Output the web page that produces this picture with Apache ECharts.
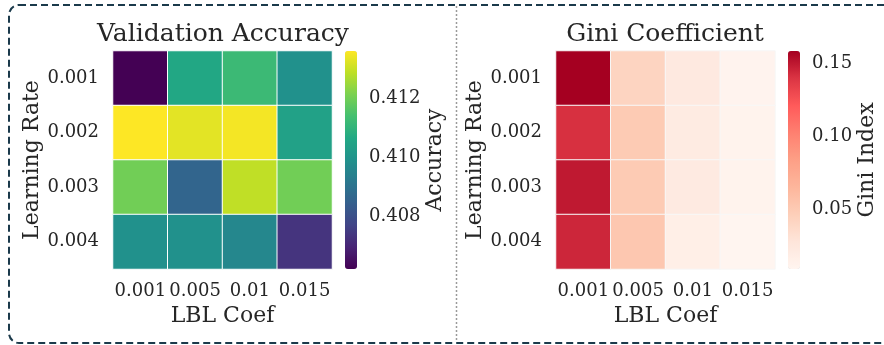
<!DOCTYPE html>
<html>
<head>
<meta charset="utf-8">
<style>
  html, body { margin: 0; padding: 0; background: #ffffff; }
  #chart { width: 884px; height: 345px; }
</style>
<script src="https://cdn.jsdelivr.net/npm/echarts@6/dist/echarts.min.js"></script>
</head>
<body>
<div id="chart"></div>
<script>
// ---- data ----
const lblCoefs = ['0.001', '0.005', '0.01', '0.015'];
const learningRates = ['0.001', '0.002', '0.003', '0.004'];

// rows = learning rate (top to bottom), columns = LBL coef
const accuracyRows = [
  [0.4062, 0.4106, 0.4112, 0.4099],
  [0.4136, 0.4133, 0.4135, 0.4104],
  [0.4120, 0.4086, 0.4129, 0.4120],
  [0.4099, 0.4099, 0.4096, 0.4073]
];
const giniRows = [
  [0.1586, 0.0420, 0.0224, 0.0110],
  [0.1414, 0.0493, 0.0209, 0.0118],
  [0.1496, 0.0493, 0.0216, 0.0112],
  [0.1451, 0.0523, 0.0164, 0.0089]
];

const accuracyTicks = [0.408, 0.410, 0.412];
const giniTicks = [0.05, 0.10, 0.15];

const viridis = ['#440154', '#482475', '#414487', '#355f8d', '#2a788e', '#21918c',
                 '#22a884', '#44bf70', '#7ad151', '#bddf26', '#fde725'];
const redsCustom = ['#fff5f0', '#fee5da', '#fdcfb9', '#fdb69c', '#fd9f86', '#fe8070',
                    '#ff5a5a', '#db3443', '#a50021'];

// ---- build ----
function toCells(rows) {
  const out = [];
  rows.forEach((row, r) => row.forEach((v, c) => out.push([c, r, v])));
  return out;
}
const accFlat = accuracyRows.flat();
const giniFlat = giniRows.flat();
const accMin = Math.min(...accFlat), accMax = Math.max(...accFlat);
const giniMin = Math.min(...giniFlat), giniMax = Math.max(...giniFlat);

const FONT = 'DejaVu Serif';
const TXT = '#262626';

const panels = [
  { left: 113, cbLeft: 345, name: 'Accuracy', nameGap: 66, digits: 3, min: accMin, max: accMax, ticks: accuracyTicks },
  { left: 556, cbLeft: 788, name: 'Gini Index', nameGap: 54, digits: 2, min: giniMin, max: giniMax, ticks: giniTicks }
];
const TOP = 51, W = 219, H = 218, CBW = 12;

const grids = [], xAxes = [], yAxes = [];
panels.forEach((p) => {
  grids.push({ left: p.left, top: TOP, width: W, height: H });
  grids.push({ left: p.cbLeft, top: TOP, width: CBW, height: H });
});
panels.forEach((p, i) => {
  xAxes.push({
    type: 'category', gridIndex: i * 2, data: lblCoefs, position: 'bottom',
    axisLine: { show: false }, axisTick: { show: false }, splitLine: { show: false },
    axisLabel: { fontFamily: FONT, fontSize: 18, color: TXT, margin: 13, interval: 0, hideOverlap: false },
    name: 'LBL Coef', nameLocation: 'middle', nameGap: 33,
    nameTextStyle: { fontFamily: FONT, fontSize: 22, color: TXT }
  });
  yAxes.push({
    type: 'category', gridIndex: i * 2, data: learningRates, inverse: true,
    axisLine: { show: false }, axisTick: { show: false }, splitLine: { show: false },
    axisLabel: { fontFamily: FONT, fontSize: 18, color: TXT, margin: 14, interval: 0 },
    name: 'Learning Rate', nameLocation: 'middle', nameRotate: 90, nameGap: 70,
    nameTextStyle: { fontFamily: FONT, fontSize: 22, color: TXT }
  });
  xAxes.push({ type: 'value', gridIndex: i * 2 + 1, show: false, min: 0, max: 1 });
  yAxes.push({
    type: 'value', gridIndex: i * 2 + 1, min: p.min, max: p.max, position: 'right',
    axisLine: { show: false }, splitLine: { show: false },
    axisTick: { show: true, length: 5, customValues: p.ticks, lineStyle: { color: '#333', width: 1.2 } },
    axisLabel: { show: true, customValues: p.ticks, margin: 12, fontFamily: FONT, fontSize: 18, color: TXT,
                 formatter: (v) => Number(v).toFixed(p.digits) },
    name: p.name, nameLocation: 'middle', nameRotate: 90, nameGap: p.nameGap,
    nameTextStyle: { fontFamily: FONT, fontSize: 22, color: TXT }
  });
});

const option = {
  backgroundColor: '#ffffff',
  animation: false,
  title: [
    { text: 'Validation Accuracy', left: 218, top: 17, textAlign: 'center',
      textStyle: { fontFamily: FONT, fontSize: 25, fontWeight: 'normal', color: TXT } },
    { text: 'Gini Coefficient', left: 660, top: 17, textAlign: 'center',
      textStyle: { fontFamily: FONT, fontSize: 25, fontWeight: 'normal', color: TXT } }
  ],
  grid: grids,
  xAxis: xAxes,
  yAxis: yAxes,
  visualMap: [
    { type: 'continuous', seriesIndex: 0, min: accMin, max: accMax, calculable: false,
      left: panels[0].cbLeft, top: TOP, itemWidth: CBW, itemHeight: H, padding: 0,
      text: null, showLabel: false, inRange: { color: viridis } },
    { type: 'continuous', seriesIndex: 1, min: giniMin, max: giniMax, calculable: false,
      left: panels[1].cbLeft, top: TOP, itemWidth: CBW, itemHeight: H, padding: 0,
      text: null, showLabel: false, inRange: { color: redsCustom } }
  ],
  series: [
    { type: 'heatmap', xAxisIndex: 0, yAxisIndex: 0, data: toCells(accuracyRows),
      itemStyle: { borderColor: '#ffffff', borderWidth: 1 }, emphasis: { disabled: true } },
    { type: 'heatmap', xAxisIndex: 2, yAxisIndex: 2, data: toCells(giniRows),
      itemStyle: { borderColor: '#f7f7f7', borderWidth: 1 }, emphasis: { disabled: true } }
  ],
  graphic: [
    { type: 'rect', silent: true, shape: { x: 9, y: 5, width: 920, height: 338, r: 10 },
      style: { fill: 'none', stroke: '#1b3a4b', lineWidth: 2, lineDash: [7, 4] } },
    { type: 'line', silent: true, shape: { x1: 456.5, y1: 6, x2: 456.5, y2: 342 },
      style: { stroke: '#9a9a9a', lineWidth: 1.5, lineDash: [2, 2] } }
  ]
};

const chart = echarts.init(document.getElementById('chart'), null, { renderer: 'canvas' });
chart.setOption(option);
</script>
</body>
</html>
